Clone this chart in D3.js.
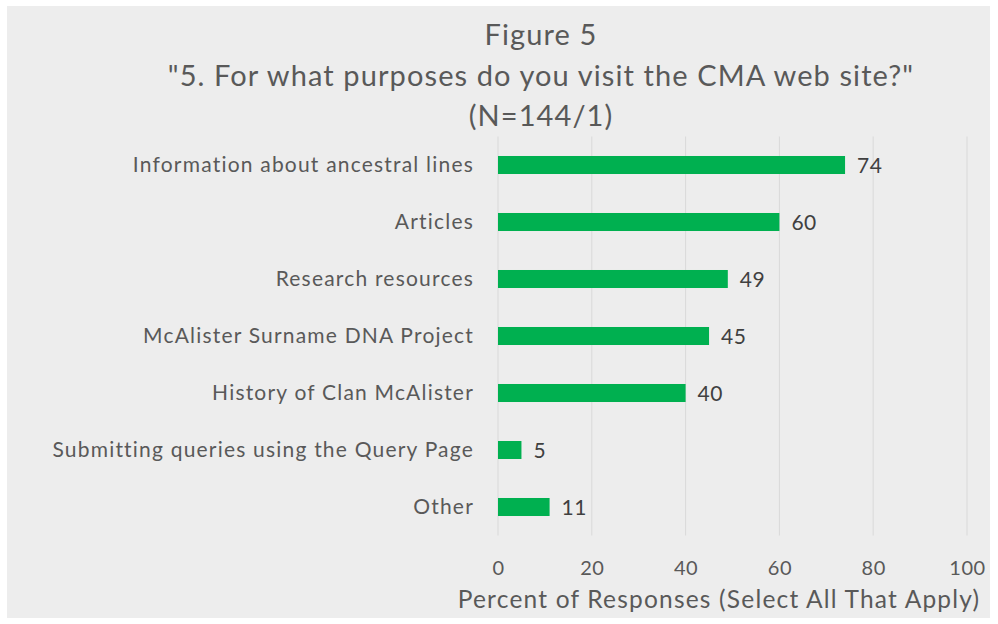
<!DOCTYPE html>
<html>
<head>
<meta charset="utf-8">
<script src="https://cdn.jsdelivr.net/npm/d3@7"></script>
<style>
  body { margin: 0; background: #fff; }
  svg text { font-family: Lato, "Open Sans", sans-serif; }
</style>
</head>
<body>
<svg id="chart" width="998" height="624"></svg>
<script>
// data
var categories = [
  'Information about ancestral lines',
  'Articles',
  'Research resources',
  'McAlister Surname DNA Project',
  'History of Clan McAlister',
  'Submitting queries using the Query Page',
  'Other'
]
var percents = [74, 60, 49, 45, 40, 5, 11]
var xTicks = [0, 20, 40, 60, 80, 100]
var titleLines = ['Figure 5', '"5. For what purposes do you visit the CMA web site?"', '(N=144/1)']
var xTitle = 'Percent of Responses (Select All That Apply)'

var svg = d3.select('#chart')

// chart area background
svg.append('rect')
    .attr('x', 7).attr('y', 6)
    .attr('width', 983).attr('height', 612)
    .attr('fill', '#ededed')

var plot = {left: 498, right: 967, top: 136.5, bottom: 535.5}

var mapx = d3.scaleLinear()
    .domain([0, 100])
    .range([plot.left, plot.right])

var mapy = d3.scaleBand()
    .domain(categories)
    .range([plot.top, plot.bottom])
    .paddingInner(0.684)
    .paddingOuter(0.342)

// gridlines
svg.append('g').selectAll('line')
    .data(xTicks)
    .enter().append('line')
    .attr('x1', d => mapx(d)).attr('x2', d => mapx(d))
    .attr('y1', plot.top).attr('y2', plot.bottom)
    .attr('stroke', '#d9d9d9')
    .attr('stroke-width', 1)

// x axis tick labels
var xAxis = d3.axisBottom(mapx).tickValues(xTicks).tickSize(0).tickPadding(0)
var ax = svg.append('g')
    .attr('transform', `translate(0,575)`)
    .call(xAxis)
ax.select('.domain').remove()
ax.selectAll('text')
    .attr('dy', 0)
    .attr('font-size', 20)
    .attr('fill', '#595959')
    .attr('letter-spacing', 0.5)
    .style('font-family', 'Lato, sans-serif')

// y axis category labels
var yAxis = d3.axisLeft(mapy).tickSize(0).tickPadding(24)
var ay = svg.append('g')
    .attr('transform', `translate(${plot.left},0)`)
    .call(yAxis)
ay.select('.domain').remove()
ay.selectAll('text')
    .attr('font-size', 21)
    .attr('fill', '#595959')
    .attr('letter-spacing', 1.2)
    .style('font-family', 'Lato, sans-serif')

// bars
svg.append('g').selectAll('rect')
    .data(percents)
    .enter().append('rect')
    .attr('x', mapx(0))
    .attr('y', (d, i) => mapy(categories[i]))
    .attr('width', d => mapx(d) - mapx(0))
    .attr('height', mapy.bandwidth())
    .attr('fill', '#00b050')

// value labels
svg.append('g').selectAll('text')
    .data(percents)
    .enter().append('text')
    .attr('x', d => mapx(d) + 12)
    .attr('y', (d, i) => mapy(categories[i]) + mapy.bandwidth() / 2)
    .attr('dy', '0.36em')
    .attr('font-size', 21)
    .attr('letter-spacing', 0.5)
    .attr('fill', '#404040')
    .text(d => d)

// title
svg.append('g').selectAll('text')
    .data(titleLines)
    .enter().append('text')
    .attr('x', 541)
    .attr('y', (d, i) => 45 + i * 40.5)
    .attr('text-anchor', 'middle')
    .attr('font-size', 29)
    .attr('letter-spacing', 1.1)
    .attr('fill', '#595959')
    .text(d => d)

// axis title
svg.append('text')
    .attr('x', 719)
    .attr('y', 608)
    .attr('text-anchor', 'middle')
    .attr('font-size', 24.5)
    .attr('letter-spacing', 1.2)
    .attr('fill', '#595959')
    .text(xTitle)
</script>
</body>
</html>
